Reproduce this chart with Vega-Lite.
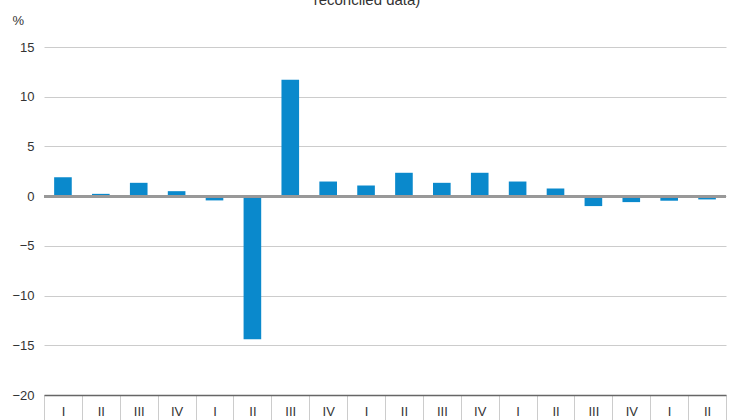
{
  "$schema": "https://vega.github.io/schema/vega-lite/v6.json",
  "autosize": "none",
  "width": 682,
  "height": 348,
  "padding": {"left": 44, "top": 47, "right": 24, "bottom": 25},
  "background": "white",
  "title": {
    "text": "reconciled data)",
    "anchor": "middle",
    "font": "Liberation Sans",
    "fontSize": 15,
    "fontWeight": "normal",
    "color": "#333333",
    "baseline": "alphabetic",
    "offset": 9,
    "dy": 15,
    "dx": -18
  },
  "config": {
    "view": {"stroke": null},
    "font": "Liberation Sans"
  },
  "data": {
    "values": [
      {"id": 1, "q": "I", "v": 1.9},
      {"id": 2, "q": "II", "v": 0.23},
      {"id": 3, "q": "III", "v": 1.34},
      {"id": 4, "q": "IV", "v": 0.5},
      {"id": 5, "q": "I", "v": -0.43},
      {"id": 6, "q": "II", "v": -14.4},
      {"id": 7, "q": "III", "v": 11.7},
      {"id": 8, "q": "IV", "v": 1.47},
      {"id": 9, "q": "I", "v": 1.07},
      {"id": 10, "q": "II", "v": 2.35},
      {"id": 11, "q": "III", "v": 1.34},
      {"id": 12, "q": "IV", "v": 2.35},
      {"id": 13, "q": "I", "v": 1.47},
      {"id": 14, "q": "II", "v": 0.77},
      {"id": 15, "q": "III", "v": -1.0},
      {"id": 16, "q": "IV", "v": -0.6},
      {"id": 17, "q": "I", "v": -0.46},
      {"id": 18, "q": "II", "v": -0.33}
    ]
  },
  "layer": [
    {
      "mark": {"type": "bar", "color": "#0a89cc", "width": {"band": 0.465}},
      "encoding": {
        "x": {
          "field": "id",
          "type": "ordinal",
          "scale": {"paddingInner": 0, "paddingOuter": 0},
          "axis": {
            "title": null,
            "labelExpr": "['I','II','III','IV'][(datum.value - 1) % 4]",
            "labelAngle": 0,
            "labelFont": "Liberation Sans",
            "labelFontSize": 13,
            "labelColor": "#333333",
            "labelBaseline": "top",
            "tickBand": "extent",
            "tickSize": 30,
            "tickColor": "#cccccc",
            "tickWidth": 1,
            "labelPadding": -20,
            "domainColor": "#666666",
            "domainWidth": 1.5,
            "grid": false
          }
        },
        "y": {
          "field": "v",
          "type": "quantitative",
          "scale": {"domain": [-20, 15], "nice": false, "zero": false},
          "axis": {
            "values": [-20, -15, -10, -5, 0, 5, 10, 15],
            "title": "%",
            "titleAngle": 0,
            "titleX": -32,
            "titleY": -27,
            "titleAlign": "left",
            "titleBaseline": "middle",
            "titleFont": "Liberation Sans",
            "titleFontSize": 13,
            "titleFontWeight": "normal",
            "titleColor": "#333333",
            "labelFont": "Liberation Sans",
            "labelFontSize": 13,
            "labelColor": "#333333",
            "labelPadding": 10,
            "ticks": false,
            "domain": false,
            "grid": true,
            "gridColor": "#cccccc",
            "gridWidth": 1
          }
        }
      }
    },
    {
      "mark": {"type": "rule", "color": "#999999", "strokeWidth": 2},
      "encoding": {"y": {"datum": 0, "type": "quantitative"}}
    }
  ]
}
